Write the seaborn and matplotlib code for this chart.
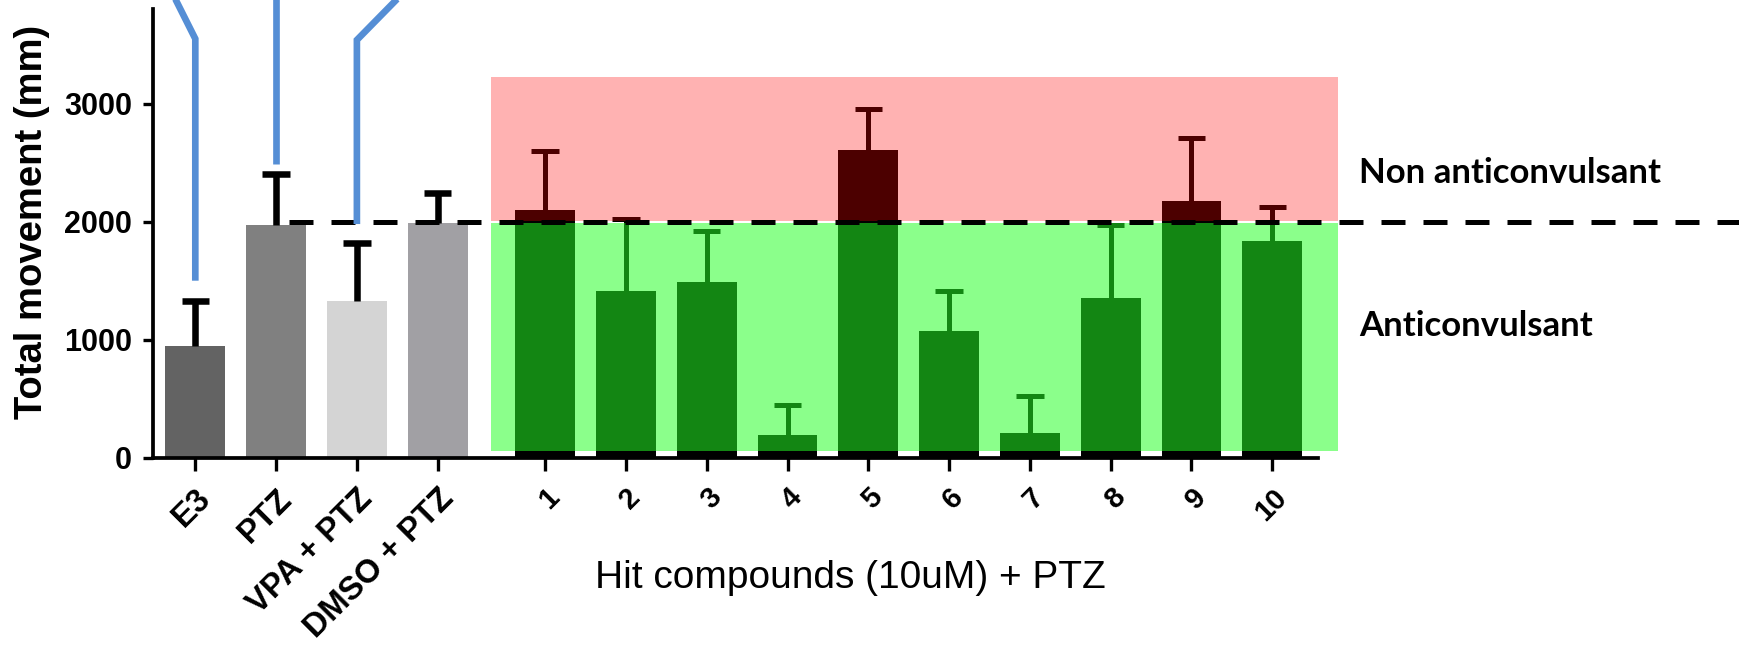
import numpy as np
import pandas as pd
import matplotlib
matplotlib.use("Agg")
import matplotlib.pyplot as plt
from matplotlib.patches import Rectangle
import seaborn as sns

# ---------------- data ----------------
control_labels = ["E3", "PTZ", "VPA + PTZ", "DMSO + PTZ"]
control_means = [950, 1970, 1330, 1990]
control_sd = [375, 430, 490, 250]

compound_labels = ["1", "2", "3", "4", "5", "6", "7", "8", "9", "10"]
compound_means = [2095, 1415, 1490, 195, 2610, 1070, 210, 1355, 2175, 1835]
compound_sd = [500, 605, 435, 255, 345, 345, 315, 615, 535, 290]

threshold = 2000
y_ticks = [0, 1000, 2000, 3000]
x_title = "Hit compounds (10uM) + PTZ"
y_title = "Total movement (mm)"
zone_labels = ["Non anticonvulsant", "Anticonvulsant"]

# callout lines (annotation, pointing to the first three control bars)
callout_targets = [0, 1, 2]
callout_tip = [1500, 2490, 1980]
callout_kink = [3550, 3550, 3540]
callout_top_dx = [-0.33, 0.0, 0.66]

# ---------------- style ----------------
control_colors = ["#636363", "#808080", "#d4d4d4", "#a1a0a4"]
compound_color = "black"

sns.set_style("ticks")
plt.rcParams["font.family"] = ["Liberation Sans", "DejaVu Sans"]
for k in ["text.color", "axes.labelcolor", "xtick.color", "ytick.color",
          "xtick.labelcolor", "ytick.labelcolor", "axes.edgecolor"]:
    plt.rcParams[k] = "black"

n_c = len(control_labels)
gap = 0.33
pos_c = np.arange(n_c, dtype=float)
pos_h = n_c + gap + np.arange(len(compound_labels), dtype=float)

df = pd.DataFrame({
    "pos": np.concatenate([pos_c, pos_h]),
    "label": control_labels + compound_labels,
    "value": control_means + compound_means,
})
palette = dict(zip(control_labels, control_colors))
palette.update({l: compound_color for l in compound_labels})

fig = plt.figure(figsize=(17.39, 6.53), dpi=100)
ax = fig.add_axes([0.08815, 0.29908, 0.66993, 0.68668])

sns.barplot(data=df, x="pos", y="value", hue="label", palette=palette,
            native_scale=True, width=0.74, legend=False, errorbar=None,
            saturation=1, ax=ax, zorder=2, linewidth=0)

# upper-only error bars
cap_half = 0.17
c_top = np.array(control_means) + np.array(control_sd)
ax.vlines(pos_c, control_means, c_top, color="black", lw=4.7, zorder=4)
ax.hlines(c_top, pos_c - cap_half, pos_c + cap_half, color="black", lw=4.7, zorder=4)
h_top = np.array(compound_means) + np.array(compound_sd)
ax.vlines(pos_h, compound_means, h_top, color="black", lw=3.6, zorder=2.5)
ax.hlines(h_top, pos_h - cap_half, pos_h + cap_half, color="black", lw=3.6, zorder=2.5)

# translucent zones over the compound bars
zx0, zx1 = pos_h[0] - 0.67, pos_h[-1] + 0.81
ax.add_patch(Rectangle((zx0, threshold + 5), zx1 - zx0, 3230 - threshold - 5,
                       facecolor=(1, 0, 0), alpha=0.3, lw=0, zorder=3, clip_on=False))
ax.add_patch(Rectangle((zx0, 60), zx1 - zx0, threshold - 15 - 60,
                       facecolor=(0.14, 1, 0.14), alpha=0.53, lw=0, zorder=3, clip_on=False))

# threshold dashed line
ax.plot([1.16, 19.3], [threshold, threshold], color="black", lw=3.6,
        dashes=(4.8, 3.6), zorder=5, clip_on=False)

# blue callout lines
for t, tip, kink, dx in zip(callout_targets, callout_tip, callout_kink, callout_top_dx):
    x = pos_c[t]
    ax.plot([x + dx, x, x], [4000, kink, tip], color="#558ED5", lw=4.8,
            zorder=6, clip_on=False, solid_joinstyle="miter", solid_capstyle="butt")

ax.set_xlim(-0.52, 13.90)
ax.set_ylim(0, 3800)
ax.set_yticks(y_ticks)
ax.set_yticklabels([str(v) for v in y_ticks])
ax.set_xticks(np.concatenate([pos_c, pos_h]))
ax.set_xticklabels(control_labels + compound_labels, rotation=45, ha="right",
                   rotation_mode="anchor")

for i, lab in enumerate(ax.get_xticklabels()):
    lab.set_fontweight("bold")
    lab.set_color("black")
    if i < n_c:
        lab.set_fontsize(23.5)
    else:
        lab.set_fontsize(21)
for lab in ax.get_yticklabels():
    lab.set_fontsize(22)
    lab.set_fontweight("bold")
    lab.set_color("black")

ax.tick_params(axis="y", length=7.2, width=2.4, pad=8, color="black")
ax.tick_params(axis="x", length=9.4, width=2.4, pad=9, color="black")
sns.despine(ax=ax)
for s in ["left", "bottom"]:
    ax.spines[s].set_linewidth(2.7)
    ax.spines[s].set_color("black")

ax.set_ylabel(y_title, fontsize=27.5, fontweight="bold", color="black")
ax.yaxis.label.set_va("center")
ax.yaxis.set_label_coords(-0.1045, 0.5257)
ax.set_xlabel(x_title, fontsize=28, color="black")
ax.xaxis.set_label_coords(0.5985, -0.228)

fig.text(1359 / 1739, 1 - 183 / 653, zone_labels[0], fontsize=25,
         fontweight="bold", family=["Lato", "DejaVu Sans"], va="baseline",
         color="black")
fig.text(1359 / 1739, 1 - 336 / 653, zone_labels[1], fontsize=25,
         fontweight="bold", family=["Lato", "DejaVu Sans"], va="baseline",
         color="black")

fig.savefig("out.png", dpi=100)
